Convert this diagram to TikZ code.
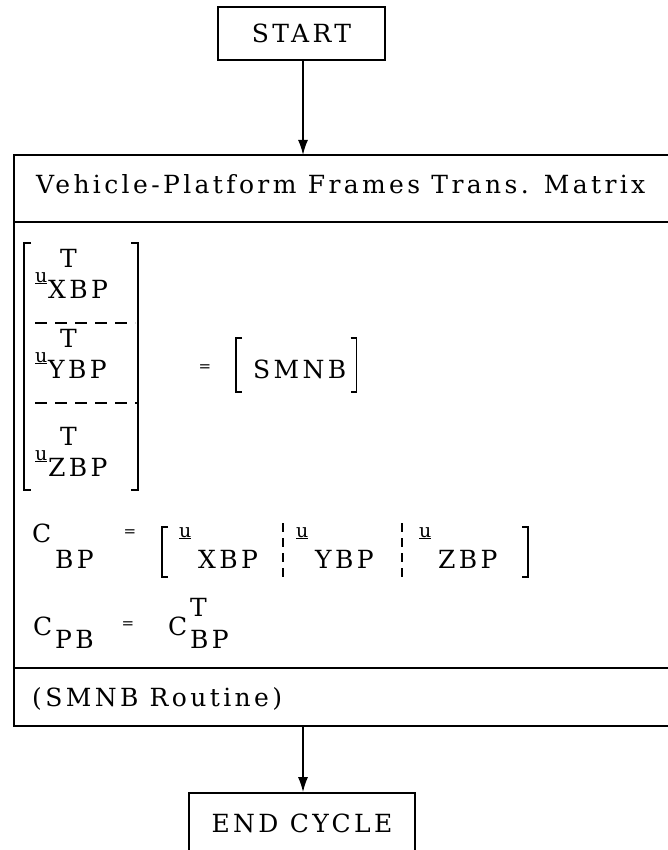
\documentclass[tikz,border=0pt]{standalone}
\usepackage{fontspec}
\setmainfont{DejaVu Serif}[LetterSpace=13.5]
\usetikzlibrary{arrows.meta}

\tikzset{
  txt/.style={anchor=base west,inner sep=0pt,font=\fontsize{25}{30}\selectfont},
  vsym/.style={anchor=base west,inner sep=0pt,font=\fontsize{19}{23}\selectfont},
  small/.style={inner sep=0pt,font=\fontsize{15}{18}\selectfont},
  frame/.style={line width=1.6pt},
  brak/.style={line width=1.3pt},
  flow/.style={line width=1.6pt,-{Latex[length=15pt,width=10pt]}},
  termbox/.style={draw,line width=1.6pt,inner sep=0pt,font=\fontsize{25}{30}\selectfont},
  rowsep/.style={line width=1.1pt,dash pattern=on 12pt off 8pt},
  colsep/.style={line width=1.1pt,dash pattern=on 9pt off 6pt},
}

\begin{document}
\begin{tikzpicture}[x=1pt,y=-1pt]
  \path[use as bounding box] (0,0) rectangle (667,850);

  % Terminal boxes.
  \node[termbox,minimum width=167pt,minimum height=53pt] (start) at (301.5,33.5) {START};
  \node[termbox,minimum width=226pt,minimum height=60pt] (endc) at (302,823) {END CYCLE};

  % Routine block, runs off the right edge.
  \draw[frame] (700,155) -- (14,155) -- (14,726) -- (700,726);
  \draw[frame] (14,222) -- (700,222);
  \draw[frame] (14,668) -- (700,668);
  \coordinate (blocktop) at (303,155);
  \coordinate (blockbot) at (303,726);

  \draw[flow] (start.south -| blocktop) -- (blocktop);
  \draw[flow] (blockbot) -- (endc.north -| blockbot);

  \node[txt] (title) at (36,194) {Vehicle-Platform Frames Trans. Matrix};

  % Column of transposed unit vectors.
  \foreach \bl/\sub in {298/XBP,378/YBP,476/ZBP}{
    \node[vsym] (u\sub) at (35,\bl-16) {\underline{u}};
    \node[txt] (t\sub) at (60,\bl-31) {T};
    \node[txt] (s\sub) at (48,\bl) {\sub};
  }
  \draw[rowsep] (35,323) -- (135,323);
  \draw[rowsep] (35,403) -- (137,403);
  \draw[brak] (31,243) -| (24,490) -- (31,490);
  \draw[brak] (131,243) -| (138,490) -- (131,490);

  \node[small] (eqa) at (205,368) {=};
  \node[txt] (smnb) at (253,378) {SMNB};
  \draw[brak] (242,338) -| (236,392) -- (242,392);
  \draw[brak] ([xshift=4pt]smnb.east |- 0,338) -| ([xshift=10pt]smnb.east |- 0,392)
    -- ([xshift=4pt]smnb.east |- 0,392);

  % C_BP row.
  \node[txt] (cbp) at (32,542) {C};
  \node[txt] (cbps) at (55,568) {BP};
  \node[small] (eqb) at (130,533) {=};
  \foreach \xx/\sub in {179/XBP,296/YBP,419/ZBP}{
    \node[vsym] (cu\sub) at (\xx,537) {\underline{u}};
    \node[txt] (cs\sub) at (\xx+19,568) {\sub};
  }
  \draw[brak] (168,527) -| (162,577) -- (168,577);
  \draw[brak] (522,527) -| (528,577) -- (522,577);
  \draw[colsep] (283,523) -- (283,577);
  \draw[colsep] (402,523) -- (402,577);

  % C_PB row.
  \node[txt] (cpb) at (33,635) {C};
  \node[txt] (cpbs) at (55,648) {PB};
  \node[small] (eqc) at (128,625) {=};
  \node[txt] (cbt) at (168,635) {C};
  \node[txt] (cbtt) at (190,616) {T};
  \node[txt] (cbts) at (190,648) {BP};

  \node[txt] (note) at (32,706) {(SMNB Routine)};
\end{tikzpicture}
\end{document}
